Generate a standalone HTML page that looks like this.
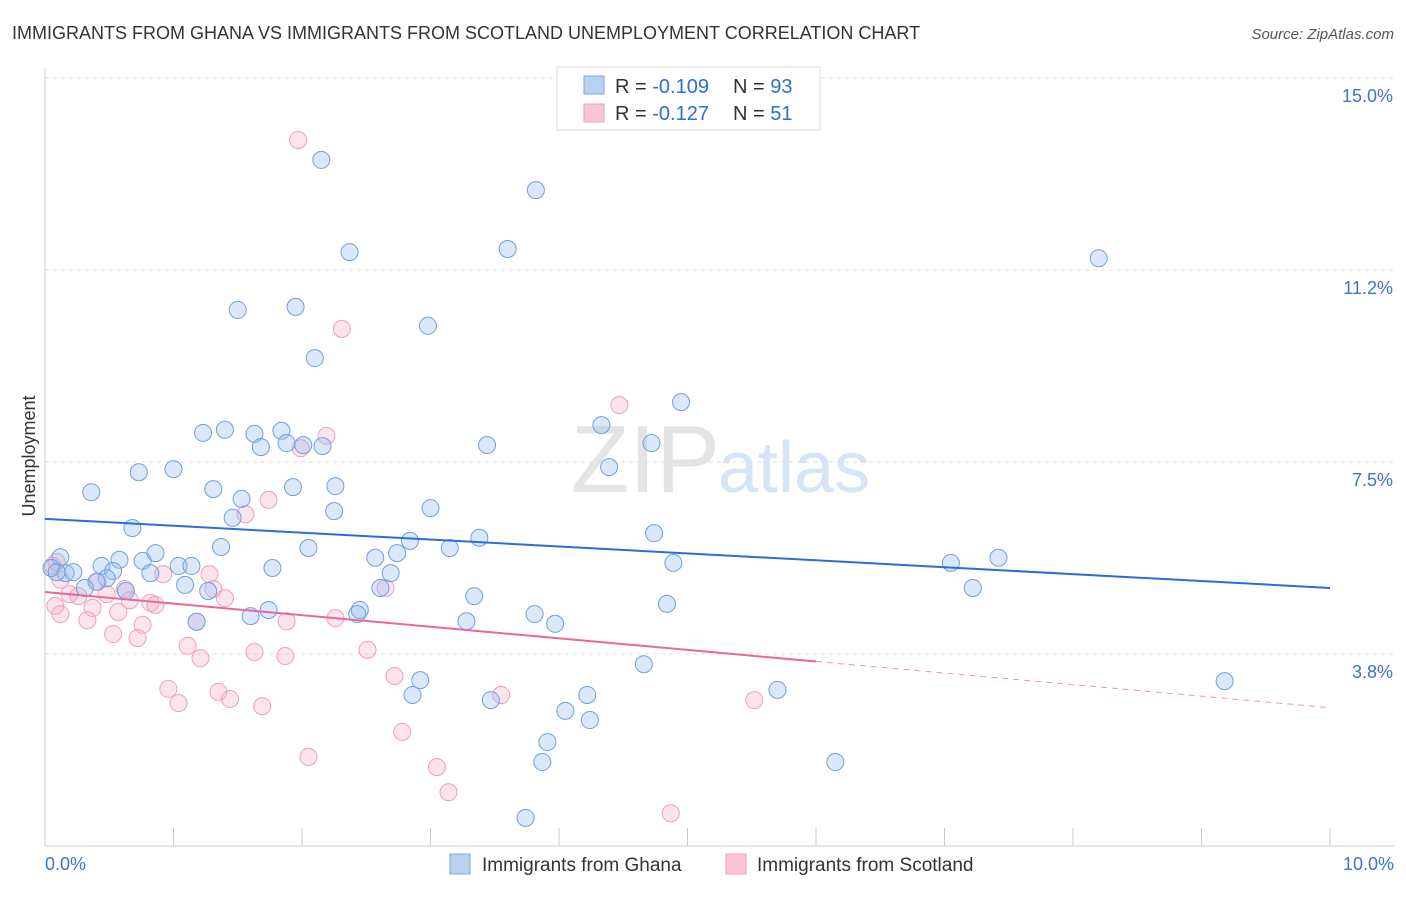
<!DOCTYPE html>
<html><head><meta charset="utf-8"><style>
body{margin:0;background:#fff;font-family:"Liberation Sans",sans-serif;}
svg text{font-family:"Liberation Sans",sans-serif;}
</style></head><body>
<svg id="chart" width="1406" height="892">
<text x="12" y="39" font-size="18" fill="#333">IMMIGRANTS FROM GHANA VS IMMIGRANTS FROM SCOTLAND UNEMPLOYMENT CORRELATION CHART</text>
<text x="1394" y="39" font-size="15" fill="#555" text-anchor="end" font-style="italic">Source: ZipAtlas.com</text>
<text x="720" y="492" font-size="96" fill="#e4e4e4" text-anchor="end" font-family="Liberation Serif">ZIP</text>
<text x="718" y="492" font-size="72" fill="#d6e4f5">atlas</text>
<text x="35" y="456" font-size="18" fill="#333" text-anchor="middle" transform="rotate(-90 35 456)">Unemployment</text>
<g id="grid"></g><g id="pts"></g><g id="lines"></g>
<g>
<rect x="557" y="67" width="263" height="63" fill="#fff" stroke="#ddd"/>
<rect x="584" y="76" width="20" height="18" fill="#b8d2f4" stroke="#7aa6e2"/>
<rect x="584" y="104" width="20" height="18" fill="#f9c6d6" stroke="#eea0bc"/>
<text x="615" y="93" font-size="20" fill="#333">R = <tspan fill="#2a6fd6">-0.109</tspan><tspan x="733">N = </tspan><tspan fill="#2a6fd6">93</tspan></text>
<text x="615" y="120" font-size="20" fill="#333">R = <tspan fill="#2a6fd6"> -0.127</tspan><tspan x="733">N = </tspan><tspan fill="#2a6fd6"> 51</tspan></text>
</g>
<g>
<rect x="450" y="854" width="20" height="20" fill="#b8d2f4" stroke="#7aa6e2"/>
<text x="482" y="871" font-size="19" fill="#333">Immigrants from Ghana</text>
<rect x="726" y="854" width="20" height="20" fill="#f9c6d6" stroke="#eea0bc"/>
<text x="757" y="871" font-size="19" fill="#333">Immigrants from Scotland</text>
</g>
</svg>
<script>
const ghanaX=[2.15,3.82,2.37,3.60,8.20,1.50,1.95,2.98,2.10,4.95,4.33,1.40,1.23,1.63,1.84,1.68,2.01,1.88,2.16,3.44,4.72,0.73,1.00,4.39,0.36,1.31,1.93,2.26,1.53,1.46,2.25,3.00,0.68,4.74,2.84,3.38,1.37,2.05,3.15,0.86,0.12,0.58,0.76,2.57,2.74,7.05,7.42,4.89,0.05,0.16,0.22,0.44,0.53,0.82,1.04,1.14,1.77,2.69,0.09,0.48,0.40,0.31,0.63,1.09,1.27,2.61,7.22,3.34,4.84,1.74,2.45,2.43,1.60,3.81,3.97,3.28,1.18,4.66,2.92,2.86,4.22,3.47,5.70,9.18,4.05,4.24,3.91,3.87,6.15,3.74];
const ghanaY=[13.40,12.81,11.60,11.66,11.48,10.47,10.53,10.16,9.53,8.67,8.22,8.13,8.07,8.05,8.11,7.79,7.83,7.87,7.81,7.83,7.87,7.30,7.36,7.40,6.91,6.97,7.01,7.03,6.78,6.41,6.54,6.60,6.21,6.11,5.96,6.02,5.84,5.82,5.82,5.72,5.64,5.59,5.57,5.63,5.72,5.53,5.63,5.53,5.43,5.33,5.35,5.47,5.37,5.33,5.47,5.47,5.43,5.33,5.35,5.23,5.16,5.04,4.98,5.10,4.98,5.04,5.04,4.88,4.73,4.61,4.61,4.53,4.49,4.53,4.34,4.39,4.38,3.55,3.24,2.95,2.95,2.85,3.05,3.22,2.64,2.46,2.03,1.64,1.64,0.55];
const scotX=[1.97,2.31,4.47,2.19,1.99,1.74,1.56,0.09,0.06,0.92,1.28,0.12,0.41,0.62,2.65,0.19,0.26,0.48,1.31,1.40,0.66,0.82,0.86,0.08,0.37,0.57,0.12,0.33,1.18,1.88,2.26,0.76,0.53,0.72,1.11,1.21,1.63,1.87,2.51,2.72,0.96,1.04,1.35,1.44,1.69,3.55,5.52,2.78,2.05,3.05,3.14,4.87];
const scotY=[13.79,10.10,8.61,8.01,7.77,6.76,6.48,5.55,5.47,5.31,5.31,5.20,5.16,5.02,5.04,4.92,4.88,4.92,5.02,4.84,4.80,4.75,4.71,4.69,4.65,4.57,4.53,4.41,4.38,4.39,4.45,4.32,4.14,4.06,3.91,3.67,3.79,3.71,3.83,3.32,3.07,2.79,3.01,2.87,2.73,2.95,2.85,2.23,1.74,1.54,1.05,0.64];
const yTicks=[15.0,11.25,7.5,3.75];
const yTickLabels=["15.0%","11.2%","7.5%","3.8%"];
const xTickVals=[1,2,3,4,5,6,7,8,9,10];
const ghanaTrend=[6.39,5.04];
const scotTrend=[4.96,2.70];
const scotSolidEnd=6.0;

const NS="http://www.w3.org/2000/svg";
const sx=v=>45+v*128.5, sy=v=>846-v*51.2;
function mk(tag,attrs,parent){const e=document.createElementNS(NS,tag);for(const k in attrs)e.setAttribute(k,attrs[k]);parent.appendChild(e);return e;}
const grid=document.getElementById('grid'),pts=document.getElementById('pts'),lines=document.getElementById('lines');
yTicks.forEach((t,i)=>{
  const l=mk('line',{x1:45,x2:1394,y1:sy(t),y2:sy(t),stroke:'#ddd','stroke-dasharray':'4,4'},grid);
  
  
  const tx=mk('text',{x:1393,y:sy(t)+24,'font-size':18,fill:'#3a74d0','text-anchor':'end'},grid);
  tx.textContent=yTickLabels[i];
  
  
});
const ax=mk('line',{x1:45,x2:1394,y1:846,y2:846,stroke:'#ccc'},grid);


const ay=mk('line',{x1:45,x2:45,y1:68,y2:846,stroke:'#ccc'},grid);


xTickVals.forEach(v=>{
  const t=mk('line',{x1:sx(v),x2:sx(v),y1:828,y2:846,stroke:'#ccc'},grid);
  
  
});
const xl0=mk('text',{x:45,y:870,'font-size':18,fill:'#3a74d0'},grid);xl0.textContent='0.0%';


const xl1=mk('text',{x:1394,y:870,'font-size':18,fill:'#3a74d0','text-anchor':'end'},grid);xl1.textContent='10.0%';


scotX.forEach((x,i)=>{
  const c=mk('circle',{cx:sx(x),cy:sy(scotY[i]),r:8.5,fill:'rgba(245,165,195,0.3)',stroke:'#eea0bc','stroke-width':1},pts);
  
  
});
ghanaX.forEach((x,i)=>{
  const c=mk('circle',{cx:sx(x),cy:sy(ghanaY[i]),r:8.5,fill:'rgba(150,190,240,0.35)',stroke:'#6fa0e0','stroke-width':1},pts);
  
  
});
const bl=mk('line',{x1:sx(0),y1:sy(ghanaTrend[0]),x2:sx(10),y2:sy(ghanaTrend[1]),stroke:'#2a6fd6','stroke-width':2},lines);


const sAt=x=>scotTrend[0]+(scotTrend[1]-scotTrend[0])*x/10;
const pl=mk('line',{x1:sx(0),y1:sy(sAt(0)),x2:sx(scotSolidEnd),y2:sy(sAt(scotSolidEnd)),stroke:'#e8689a','stroke-width':2},lines);


const pd=mk('line',{x1:sx(scotSolidEnd),y1:sy(sAt(scotSolidEnd)),x2:sx(10),y2:sy(sAt(10)),stroke:'#e8689a','stroke-width':1,'stroke-dasharray':'6,5','opacity':0.7},lines);


</script>
</body></html>
